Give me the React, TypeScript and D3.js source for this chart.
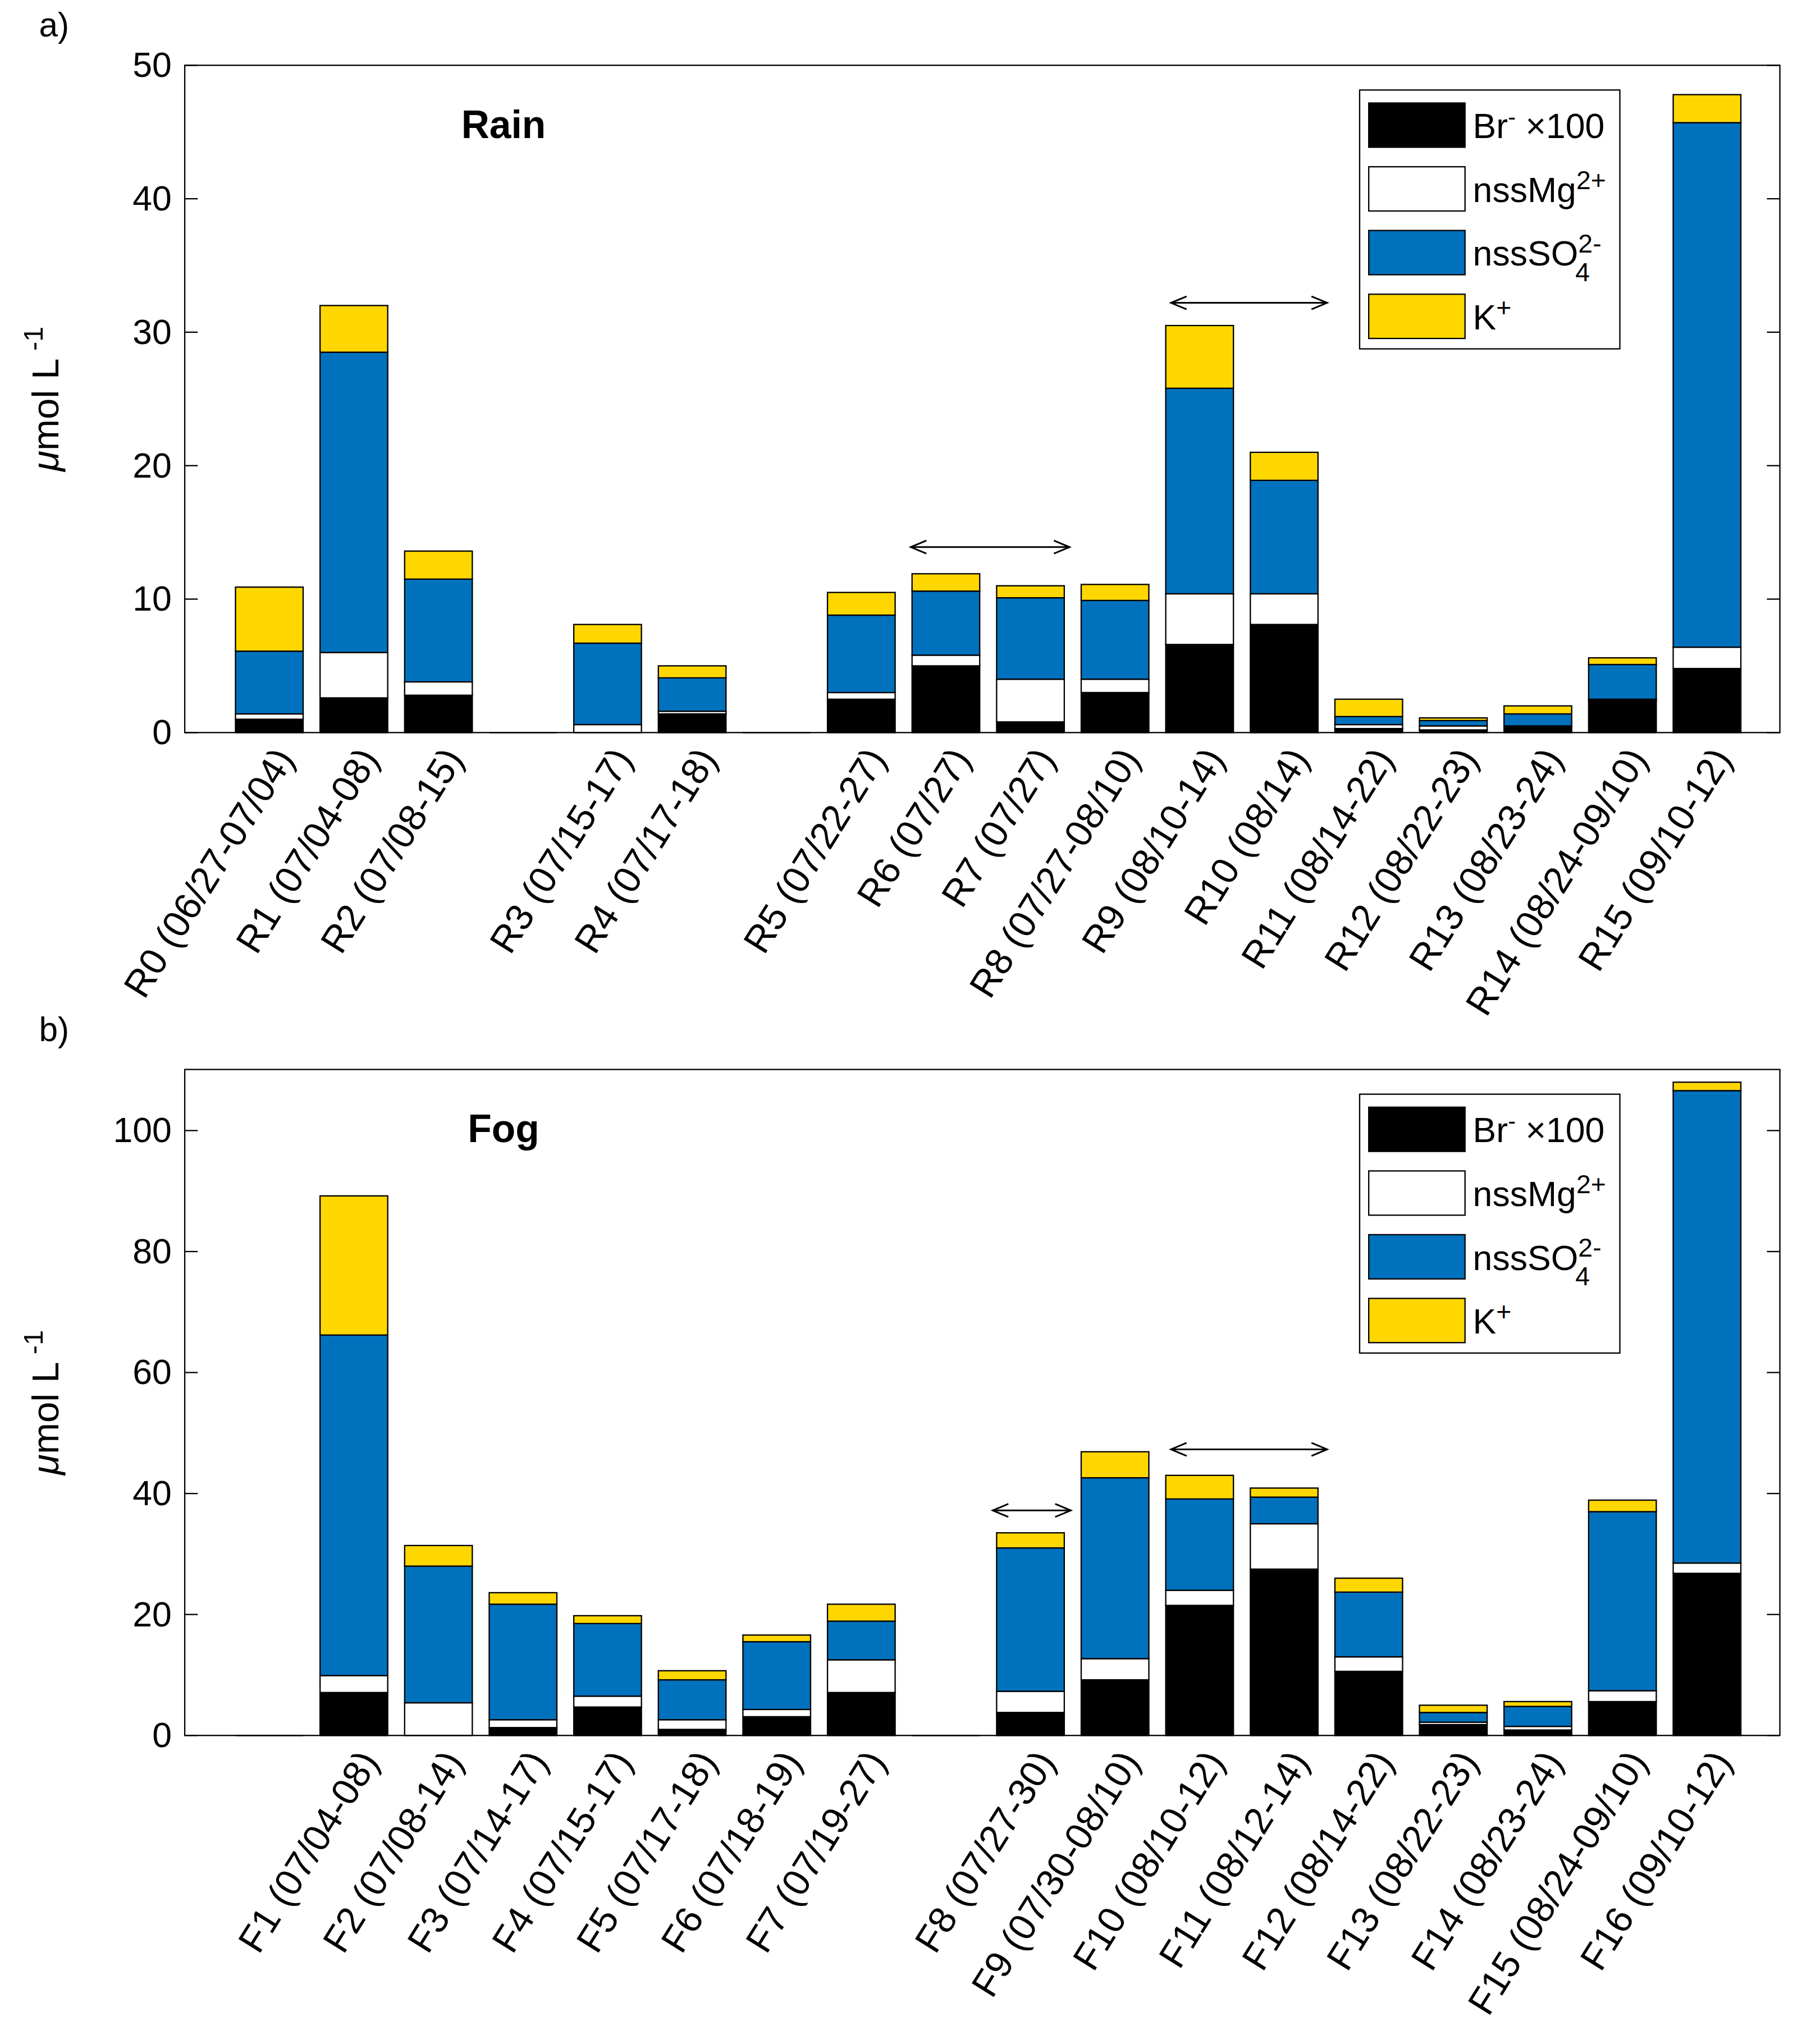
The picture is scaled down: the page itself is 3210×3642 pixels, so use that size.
import React from "react";
import * as d3 from "d3";

const rainLabels = ["R0 (06/27-07/04)","R1 (07/04-08)","R2 (07/08-15)","R3 (07/15-17)","R4 (07/17-18)","R5 (07/22-27)","R6 (07/27)","R7 (07/27)","R8 (07/27-08/10)","R9 (08/10-14)","R10 (08/14)","R11 (08/14-22)","R12 (08/22-23)","R13 (08/23-24)","R14 (08/24-09/10)","R15 (09/10-12)"];
const rainSlots = [1,2,3,5,6,8,9,10,11,12,13,14,15,16,17,18];
const rainEmpty = [4,7];
// cumulative tops: Br, Mg, SO4, K
const rainBr = [1.0,2.6,2.8,0,1.4,2.5,5.0,0.8,3.0,6.6,8.1,0.3,0.2,0.4,2.4,4.8];
const rainMg = [1.4,6.0,3.8,0.6,1.6,3.0,5.8,4.0,4.0,10.4,10.4,0.6,0.5,0.5,2.5,6.4];
const rainSO4 = [6.1,28.5,11.5,6.7,4.1,8.8,10.6,10.1,9.9,25.8,18.9,1.2,0.9,1.4,5.1,45.7];
const rainK = [10.9,32.0,13.6,8.1,5.0,10.5,11.9,11.0,11.1,30.5,21.0,2.5,1.1,2.0,5.6,47.8];
const rainTicks = [0,10,20,30,40,50];

const fogLabels = ["F1 (07/04-08)","F2 (07/08-14)","F3 (07/14-17)","F4 (07/15-17)","F5 (07/17-18)","F6 (07/18-19)","F7 (07/19-27)","F8 (07/27-30)","F9 (07/30-08/10)","F10 (08/10-12)","F11 (08/12-14)","F12 (08/14-22)","F13 (08/22-23)","F14 (08/23-24)","F15 (08/24-09/10)","F16 (09/10-12)"];
const fogSlots = [2,3,4,5,6,7,8,10,11,12,13,14,15,16,17,18];
const fogEmpty = [1,9];
const fogBr = [7.1,0,1.3,4.7,1.0,3.1,7.1,3.8,9.2,21.5,27.5,10.6,1.8,0.9,5.6,26.8];
const fogMg = [9.9,5.4,2.6,6.5,2.6,4.3,12.5,7.3,12.7,24.0,35.0,13.0,2.2,1.5,7.4,28.5];
const fogSO4 = [66.2,28.0,21.7,18.5,9.2,15.5,18.9,31.0,42.6,39.1,39.4,23.7,3.8,4.8,37.0,106.6];
const fogK = [89.2,31.4,23.6,19.8,10.7,16.6,21.7,33.5,46.9,43.0,40.9,26.0,5.0,5.6,38.9,108.0];
const fogTicks = [0,20,40,60,80,100];

const colors = ["#000000","#ffffff","#0072bd","#ffd700"];
const font = "Liberation Sans, Arial, sans-serif";

type P = { top:number; bottom:number; ymax:number; labels:string[]; slots:number[]; empty:number[]; br:number[]; mg:number[]; so4:number[]; k:number[]; ticks:number[]; title:string; tag:string; arrows:[number,number,number][]; };

function Panel(p: P) {
  const L = 142, R = 1368;
  const x = d3.scaleLinear().domain([1, 18]).range([207, 1312]);
  const y = d3.scaleLinear().domain([0, p.ymax]).range([p.bottom, p.top]);
  const bw = 52;
  const stacks = [p.br, p.mg, p.so4, p.k];
  const lg = { x: 1045, y: p.top + 19, w: 200, h: 199 };
  const legendRows = [
    { c: colors[0], t: <><tspan>Br</tspan><tspan dy={-10} fontSize={18}>-</tspan><tspan dy={10}> ×100</tspan></> },
    { c: colors[1], t: <><tspan>nssMg</tspan><tspan dy={-10} fontSize={20}>2+</tspan></> },
    { c: colors[2], t: <><tspan>nssSO</tspan><tspan dy={-10} fontSize={20}>2-</tspan><tspan dx={-20} dy={22} fontSize={20}>4</tspan></> },
    { c: colors[3], t: <><tspan>K</tspan><tspan dy={-10} fontSize={20}>+</tspan></> },
  ];
  return (
    <g fontFamily={font}>
      <text x={30} y={p.top - 22} fontSize={26}>{p.tag}</text>
      {p.ticks.map(t => (
        <g key={t}>
          <line x1={L} x2={L + 10} y1={y(t)} y2={y(t)} stroke="#000" />
          <line x1={R} x2={R - 10} y1={y(t)} y2={y(t)} stroke="#000" />
          <text x={L - 10} y={y(t) + 9} textAnchor="end" fontSize={27}>{t}</text>
        </g>
      ))}
      <text transform={`translate(45,${(p.top + p.bottom) / 2}) rotate(-90)`} textAnchor="middle" fontSize={29}>
        <tspan fontStyle="italic">μ</tspan><tspan>mol L</tspan><tspan dy={-12} fontSize={21}> -1</tspan>
      </text>
      {p.empty.map(s => (
        <line key={s} x1={x(s) - bw / 2} x2={x(s) + bw / 2} y1={y(0)} y2={y(0)} stroke="#000" />
      ))}
      {p.slots.map((s, i) => stacks.map((arr, j) => {
        const lo = j === 0 ? 0 : stacks[j - 1][i];
        const hi = arr[i];
        return <rect key={`${i}-${j}`} x={x(s) - bw / 2} width={bw} y={y(hi)} height={Math.max(0, y(lo) - y(hi))} fill={colors[j]} stroke="#000" strokeWidth={1} />;
      }))}
      {p.slots.map((s, i) => (
        <text key={i} transform={`translate(${x(s) + 20},${p.bottom + 20}) rotate(-58)`} textAnchor="end" fontSize={29}>{p.labels[i]}</text>
      ))}
      {p.arrows.map(([a, b, v], i) => (
        <g key={i}>
          <line x1={a} x2={b} y1={y(v)} y2={y(v)} stroke="#000" strokeWidth={1.3} />
          <path d={`M${a + 12},${y(v) - 5} L${a},${y(v)} L${a + 12},${y(v) + 5}`} fill="none" stroke="#000" strokeWidth={1.3} />
          <path d={`M${b - 12},${y(v) - 5} L${b},${y(v)} L${b - 12},${y(v) + 5}`} fill="none" stroke="#000" strokeWidth={1.3} />
        </g>
      ))}
      <text x={387} y={p.top + 56} textAnchor="middle" fontSize={30} fontWeight="bold">{p.title}</text>
      <rect x={lg.x} y={lg.y} width={lg.w} height={lg.h} fill="#fff" stroke="#000" />
      {legendRows.map((r, i) => {
        const cy = lg.y + 27 + i * 49;
        return (
          <g key={i}>
            <rect x={lg.x + 7} y={cy - 17} width={74} height={34} fill={r.c} stroke="#000" />
            <text x={lg.x + 87} y={cy + 10} fontSize={27}>{r.t}</text>
          </g>
        );
      })}
      <rect x={L} y={p.top} width={R - L} height={p.bottom - p.top} fill="none" stroke="#000" />
    </g>
  );
}

export default function App() {
  return (
    <svg width={3210} height={3642} viewBox="0 0 1385 1571" style={{ position: "absolute", left: 0, top: 0, background: "#fff" }}>
      <rect width={1385} height={1571} fill="#fff" />
      <Panel top={50} bottom={563} ymax={50} labels={rainLabels} slots={rainSlots} empty={rainEmpty}
        br={rainBr} mg={rainMg} so4={rainSO4} k={rainK} ticks={rainTicks} title="Rain" tag="a)"
        arrows={[[700, 822, 13.9], [900, 1020, 32.2]]} />
      <Panel top={822} bottom={1334} ymax={110.1} labels={fogLabels} slots={fogSlots} empty={fogEmpty}
        br={fogBr} mg={fogMg} so4={fogSO4} k={fogK} ticks={fogTicks} title="Fog" tag="b)"
        arrows={[[763, 823, 37.2], [900, 1020, 47.3]]} />
    </svg>
  );
}
